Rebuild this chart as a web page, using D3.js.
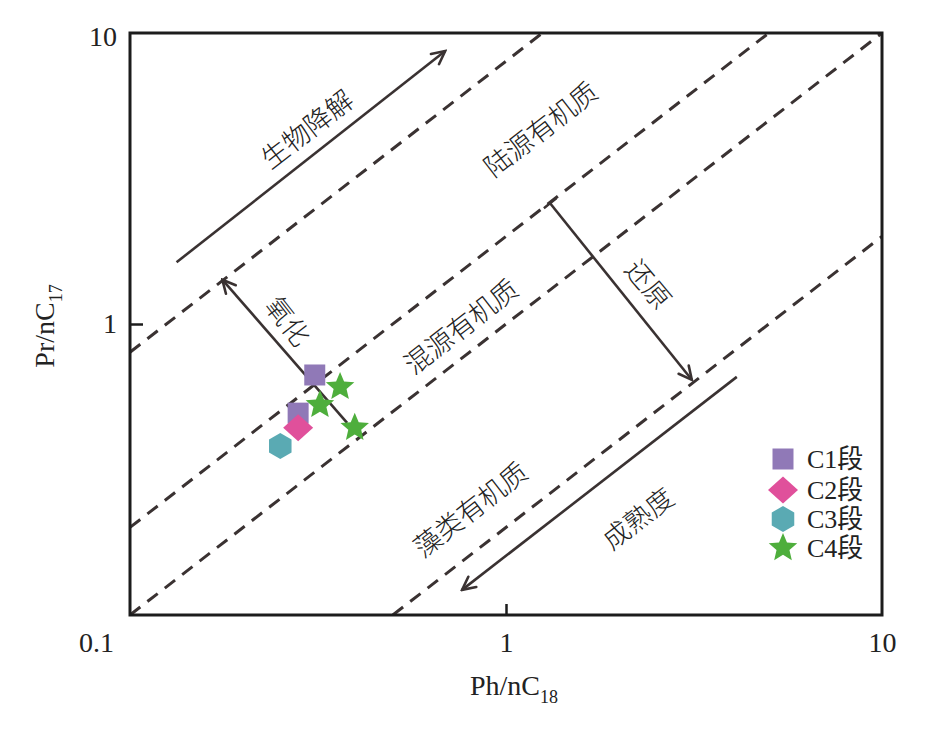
<!DOCTYPE html>
<html>
<head>
<meta charset="utf-8">
<script src="https://cdn.jsdelivr.net/npm/d3@7"></script>
<style>
    html, body { margin: 0; padding: 0; background: #fff; }
    svg text { fill: #222; }
</style>
</head>
<body>
<div id="chart"></div>
<script>
(function () {
    /* ----------------------- Data ----------------------- */
    const xTickValues = [0.1, 1, 10];
    const yTickValues = [1, 10];
    // boundary lines Pr/nC17 = k * Ph/nC18
    const boundaryRatios = [8, 2, 1, 0.2];

    const groups = ["C1段", "C2段", "C3段", "C4段"];
    const groupColors = ["#9079b7", "#e0509b", "#5aaab3", "#4eae3c"];
    const groupShapes = ["square", "diamond", "hexagon", "star"];

    const sampleGroup = [0, 0, 1, 2, 3, 3, 3];
    const samplePh = [0.31, 0.28, 0.28, 0.251, 0.362, 0.32, 0.396];
    const samplePr = [0.668, 0.494, 0.44, 0.381, 0.608, 0.527, 0.44];

    // trend arrows [from, to] in data units
    const arrowNames = ["生物降解", "氧化", "还原", "成熟度"];
    const arrowFrom = [[0.133, 1.63], [0.378, 0.457], [1.31, 2.6], [4.11, 0.658]];
    const arrowTo = [[0.689, 8.67], [0.176, 1.42], [3.12, 0.643], [0.764, 0.122]];

    // region / process labels
    const labelTexts = ["生物降解", "陆源有机质", "混源有机质", "藻类有机质", "成熟度", "还原", "氧化"];
    const labelPh = [0.294, 1.23, 0.755, 0.80, 2.23, 2.41, 0.265];
    const labelPr = [4.72, 4.72, 0.99, 0.233, 0.217, 1.38, 1.03];

    /* ----------------------- Dimensions ----------------------- */
    const W = 945, H = 729;
    const plot = { left: 130, right: 882, top: 33, bottom: 615 };
    const ink = "#3a3232";
    const latin = "'Liberation Serif', 'Noto Sans CJK SC', serif";

    const svg = d3.select("#chart").append("svg")
        .attr("width", W).attr("height", H)
        .attr("viewBox", `0 0 ${W} ${H}`);

    const x = d3.scaleLog().domain([0.1, 10]).range([plot.left, plot.right]);
    const y = d3.scaleLog().domain([0.1, 10]).range([plot.bottom, plot.top]);

    // pixel angle of a slope-1 line in log-log space
    const diagAngle = Math.atan((y(0.1) - y(10)) / (x(10) - x(0.1))) * 180 / Math.PI;

    /* ----------------------- Markers ----------------------- */
    const defs = svg.append("defs");
    defs.append("clipPath").attr("id", "plot-clip")
        .append("rect")
        .attr("x", plot.left).attr("y", plot.top)
        .attr("width", plot.right - plot.left).attr("height", plot.bottom - plot.top);

    defs.append("marker")
        .attr("id", "arrow-head")
        .attr("markerUnits", "userSpaceOnUse")
        .attr("viewBox", "0 0 18 18")
        .attr("refX", 16).attr("refY", 9)
        .attr("markerWidth", 18).attr("markerHeight", 18)
        .attr("orient", "auto")
        .append("path")
        .attr("d", "M3,2.5 L16,9 L3,15.5")
        .attr("fill", "none")
        .attr("stroke", ink)
        .attr("stroke-width", 2.6)
        .attr("stroke-linecap", "round");

    defs.append("marker")
        .attr("id", "arrow-bar")
        .attr("markerUnits", "userSpaceOnUse")
        .attr("viewBox", "0 0 6 20")
        .attr("refX", 3).attr("refY", 10)
        .attr("markerWidth", 6).attr("markerHeight", 20)
        .attr("orient", "auto")
        .append("path")
        .attr("d", "M3,2 L3,18")
        .attr("stroke", ink)
        .attr("stroke-width", 2.4);

    /* ----------------------- Boundary lines ----------------------- */
    const line = d3.line().x(d => x(d[0])).y(d => y(d[1]));

    svg.append("g").attr("clip-path", "url(#plot-clip)")
        .selectAll("path")
        .data(boundaryRatios)
        .enter().append("path")
        .attr("d", k => {
            const x0 = Math.max(0.1, 0.1 / k), x1 = Math.min(10, 10 / k);
            return line([[x0, k * x0], [x1, k * x1]]);
        })
        .attr("fill", "none")
        .attr("stroke", ink)
        .attr("stroke-width", 3)
        .attr("stroke-dasharray", "13,9");

    /* ----------------------- Arrows ----------------------- */
    svg.append("g")
        .selectAll("path")
        .data(arrowNames)
        .enter().append("path")
        .attr("d", (d, i) => line([arrowFrom[i], arrowTo[i]]))
        .attr("fill", "none")
        .attr("stroke", ink)
        .attr("stroke-width", 2.6)
        .attr("marker-end", "url(#arrow-head)")
        .attr("marker-start", d => d === "还原" ? "url(#arrow-bar)" : null);

    /* ----------------------- Labels ----------------------- */
    const labelAngle = t => {
        if (t === "还原") return 50;
        if (t === "氧化") return 52;
        return -diagAngle;
    };

    svg.append("g")
        .selectAll("text")
        .data(labelTexts)
        .enter().append("text")
        .attr("transform", (t, i) => `translate(${x(labelPh[i])},${y(labelPr[i])}) rotate(${labelAngle(t)})`)
        .attr("text-anchor", "middle")
        .attr("dominant-baseline", "central")
        .style("font-family", "'Noto Sans CJK SC', sans-serif")
        .style("font-weight", 300)
        .style("font-size", "27px")
        .text(t => t);

    /* ----------------------- Symbols ----------------------- */
    function shapePath(shape) {
        if (shape === "square") {
            const s = 21;
            return `M${-s / 2},${-s / 2}h${s}v${s}h${-s}Z`;
        }
        if (shape === "diamond") {
            const w = 30, h = 27;
            return `M0,${-h / 2}L${w / 2},0L0,${h / 2}L${-w / 2},0Z`;
        }
        if (shape === "hexagon") {
            const r = 13;
            const pts = d3.range(6).map(i => {
                const a = (-90 + 60 * i) * Math.PI / 180;
                return [r * Math.cos(a), r * Math.sin(a)];
            });
            return "M" + pts.map(p => p.join(",")).join("L") + "Z";
        }
        const R = 15, r = 6.8;
        const pts = d3.range(10).map(i => {
            const a = (-90 + 36 * i) * Math.PI / 180;
            const rr = i % 2 === 0 ? R : r;
            return [rr * Math.cos(a), rr * Math.sin(a)];
        });
        return "M" + pts.map(p => p.join(",")).join("L") + "Z";
    }

    svg.append("g")
        .selectAll("path")
        .data(sampleGroup)
        .enter().append("path")
        .attr("transform", (g, i) => `translate(${x(samplePh[i])},${y(samplePr[i])})`)
        .attr("d", g => shapePath(groupShapes[g]))
        .attr("fill", g => groupColors[g]);

    /* ----------------------- Frame & axes ----------------------- */
    svg.append("rect")
        .attr("x", plot.left).attr("y", plot.top)
        .attr("width", plot.right - plot.left).attr("height", plot.bottom - plot.top)
        .attr("fill", "none")
        .attr("stroke", "#1c1c1c")
        .attr("stroke-width", 3);

    const xAxis = d3.axisBottom(x).tickValues(xTickValues)
        .tickFormat(d3.format("")).tickSize(-11).tickPadding(17);
    const yAxis = d3.axisLeft(y).tickValues(yTickValues)
        .tickFormat(d3.format("")).tickSize(-13).tickPadding(13);

    const gx = svg.append("g")
        .attr("transform", `translate(0,${plot.bottom})`)
        .call(xAxis);
    const gy = svg.append("g")
        .attr("transform", `translate(${plot.left},0)`)
        .call(yAxis);

    [gx, gy].forEach(g => {
        g.select(".domain").remove();
        g.selectAll(".tick line").attr("stroke", "#1c1c1c").attr("stroke-width", 2.5);
        g.selectAll(".tick text")
            .attr("fill", "#222")
            .style("font-family", latin)
            .style("font-size", "28px");
    });
    gx.selectAll(".tick line").filter(d => d !== 1).remove();
    gy.selectAll(".tick line").filter(d => d !== 1).remove();
    gx.selectAll(".tick text").filter(d => d === 0.1).attr("dx", -34);
    gx.selectAll(".tick text").attr("dy", "0.71em");
    gy.selectAll(".tick text").filter(d => d === 10).attr("dy", "0.45em");

    /* ----------------------- Axis titles ----------------------- */
    const xTitle = svg.append("text")
        .attr("x", 514).attr("y", 695)
        .attr("text-anchor", "middle")
        .style("font-family", latin)
        .style("font-size", "28px");
    xTitle.append("tspan").text("Ph/nC");
    xTitle.append("tspan").attr("dy", 8).style("font-size", "18px").text("18");

    const yTitle = svg.append("text")
        .attr("transform", `translate(54,326) rotate(-90)`)
        .attr("text-anchor", "middle")
        .style("font-family", latin)
        .style("font-size", "28px");
    yTitle.append("tspan").text("Pr/nC");
    yTitle.append("tspan").attr("dy", 8).style("font-size", "18px").text("17");

    /* ----------------------- Legend ----------------------- */
    const legendRows = [459, 490, 519, 548];
    const legend = svg.append("g")
        .selectAll("g")
        .data(groups)
        .enter().append("g")
        .attr("transform", (d, i) => `translate(783,${legendRows[i]})`);

    legend.append("path")
        .attr("d", (d, i) => shapePath(groupShapes[i]))
        .attr("fill", (d, i) => groupColors[i]);

    legend.append("text")
        .attr("x", 24).attr("y", 9)
        .style("font-family", latin)
        .style("font-size", "26px")
        .text(d => d);
})();
</script>
</body>
</html>
